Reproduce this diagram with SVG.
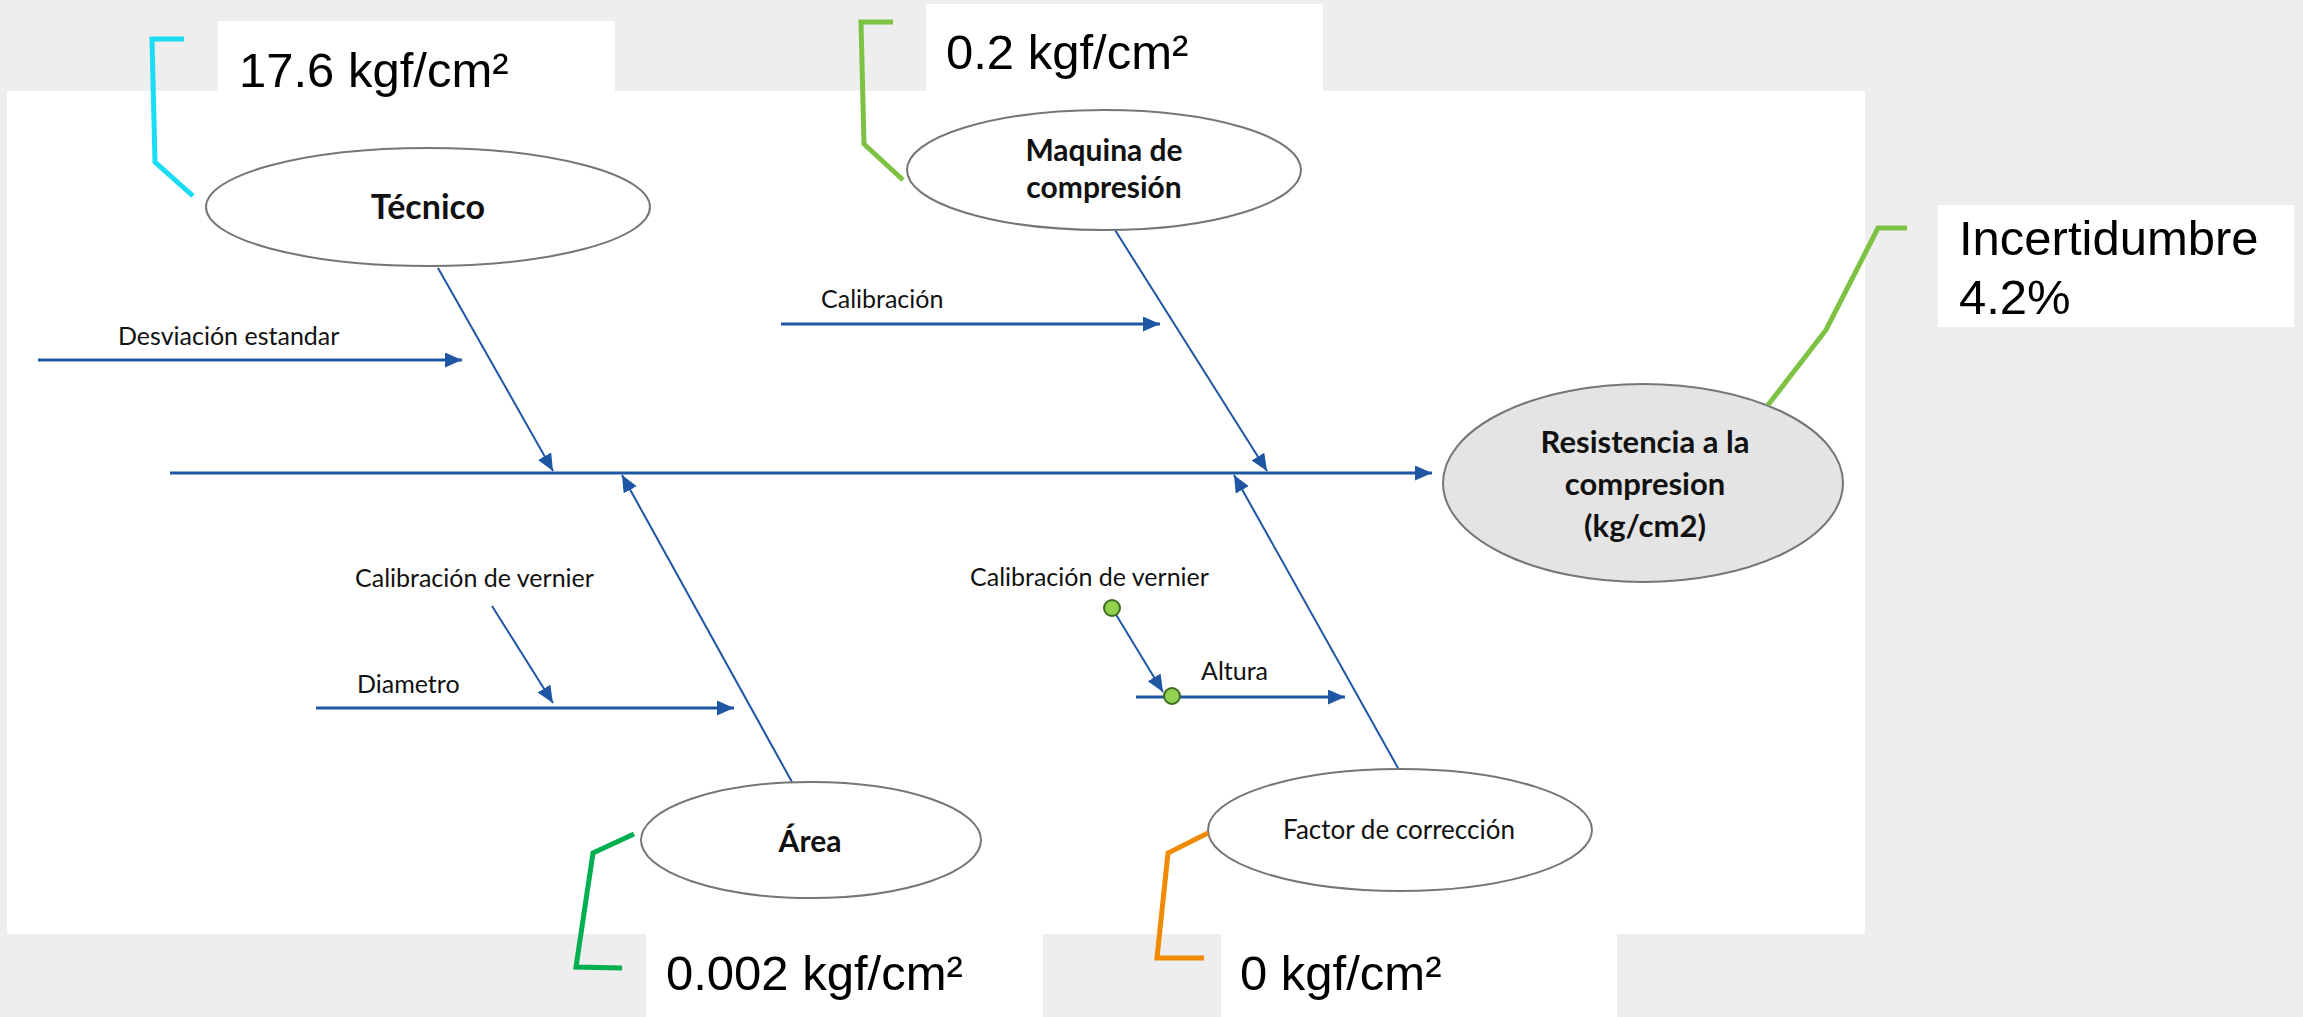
<svg xmlns="http://www.w3.org/2000/svg" width="2303" height="1017" viewBox="0 0 2303 1017">
<style>
.cat{fill:#fff;stroke:#767676;stroke-width:2}
.eff{fill:#e4e4e4;stroke:#767676;stroke-width:2}
.bt{font-family:Lato,"Open Sans",sans-serif;font-weight:bold;fill:#111;text-anchor:middle}
.rt{font-family:Lato,"Open Sans",sans-serif;fill:#111}
.big{font-family:"Liberation Sans",Arial,sans-serif;font-size:49px;fill:#000}
.box{fill:#fff}
.ar{stroke:#1f56a3;fill:none;marker-end:url(#ah)}
.call{fill:none;stroke-width:5;stroke-linejoin:miter}
.dot{fill:#92d050;stroke:#3d6b1f;stroke-width:2}
</style>
<defs>
<marker id="ah" markerUnits="userSpaceOnUse" markerWidth="18" markerHeight="16" refX="17" refY="7.5" orient="auto">
<path d="M0,0 L17,7.5 L0,15 z" fill="#1f56a3"/>
</marker>
</defs>
<rect x="0" y="0" width="2303" height="1017" fill="#eeeeee"/>
<rect x="7" y="91" width="1858" height="843" fill="#ffffff"/>

<g id="connectors">
<line class="ar" x1="170" y1="473" x2="1432" y2="473" stroke-width="3"/>
<line class="ar" x1="438" y1="268" x2="553" y2="471" stroke-width="2"/>
<line class="ar" x1="1115" y1="230" x2="1267" y2="471" stroke-width="2"/>
<line class="ar" x1="792" y1="782" x2="622" y2="475" stroke-width="2"/>
<line class="ar" x1="1398" y1="768" x2="1234" y2="475" stroke-width="2"/>
<line class="ar" x1="38" y1="360" x2="462" y2="360" stroke-width="3"/>
<line class="ar" x1="781" y1="324" x2="1160" y2="324" stroke-width="3"/>
<line class="ar" x1="492" y1="606" x2="553" y2="703" stroke-width="2"/>
<line class="ar" x1="316" y1="708" x2="734" y2="708" stroke-width="3"/>
<line class="ar" x1="1112" y1="608" x2="1163" y2="692" stroke-width="2"/>
<line class="ar" x1="1136" y1="697" x2="1345" y2="697" stroke-width="3"/>
<circle class="dot" cx="1112" cy="608" r="8"/>
<circle class="dot" cx="1172" cy="696" r="8"/>
</g>

<g id="tecnico">
<ellipse class="cat" cx="428" cy="207" rx="222" ry="59"/>
<text class="bt" x="428" y="219" font-size="34">Técnico</text>
</g>
<g id="maquina">
<ellipse class="cat" cx="1104" cy="170" rx="197" ry="60"/>
<text class="bt" x="1104" y="161" font-size="30">Maquina de</text>
<text class="bt" x="1104" y="198" font-size="30">compresión</text>
</g>
<g id="resistencia">
<ellipse class="eff" cx="1643" cy="483" rx="200" ry="99"/>
<text class="bt" x="1645" y="453" font-size="31">Resistencia a la</text>
<text class="bt" x="1645" y="495" font-size="31">compresion</text>
<text class="bt" x="1645" y="537" font-size="31">(kg/cm2)</text>
</g>
<g id="area">
<ellipse class="cat" cx="811" cy="840" rx="170" ry="58"/>
<text class="bt" x="810" y="852" font-size="30">Área</text>
</g>
<g id="factor">
<ellipse class="cat" cx="1400" cy="830" rx="192" ry="61"/>
<text class="rt" x="1399" y="839" font-size="26" text-anchor="middle">Factor de corrección</text>
</g>

<g id="sub-labels">
<text class="rt" x="118" y="345" font-size="25">Desviación estandar</text>
<text class="rt" x="821" y="308" font-size="25">Calibración</text>
<text class="rt" x="355" y="587" font-size="25">Calibración de vernier</text>
<text class="rt" x="357" y="693" font-size="25">Diametro</text>
<text class="rt" x="970" y="586" font-size="25">Calibración de vernier</text>
<text class="rt" x="1201" y="680" font-size="25">Altura</text>
</g>

<g id="callouts">
<polyline class="call" stroke="#1adcf4" points="184,39 152,39 155,162 193,196"/>
<polyline class="call" stroke="#7dc243" points="893,22 861,22 864,144 903,180"/>
<polyline class="call" stroke="#7dc243" points="1907,228 1878,228 1826,330 1768,405"/>
<polyline class="call" stroke="#00b050" points="634,834 593,853 576,967 622,968"/>
<polyline class="call" stroke="#f08a00" points="1208,833 1168,853 1157,958 1204,958"/>
</g>

<g id="label-tecnico">
<rect class="box" x="218" y="21" width="397" height="70"/>
<text class="big" x="239" y="87">17.6 kgf/cm²</text>
</g>
<g id="label-maquina">
<rect class="box" x="926" y="4" width="397" height="87"/>
<text class="big" x="946" y="69">0.2 kgf/cm²</text>
</g>
<g id="label-incertidumbre">
<rect class="box" x="1938" y="205" width="356" height="122"/>
<text class="big" x="1959" y="255">Incertidumbre</text>
<text class="big" x="1959" y="314">4.2%</text>
</g>
<g id="label-area">
<rect class="box" x="646" y="934" width="397" height="83"/>
<text class="big" x="666" y="990">0.002 kgf/cm²</text>
</g>
<g id="label-factor">
<rect class="box" x="1221" y="934" width="396" height="83"/>
<text class="big" x="1240" y="990">0 kgf/cm²</text>
</g>
</svg>
